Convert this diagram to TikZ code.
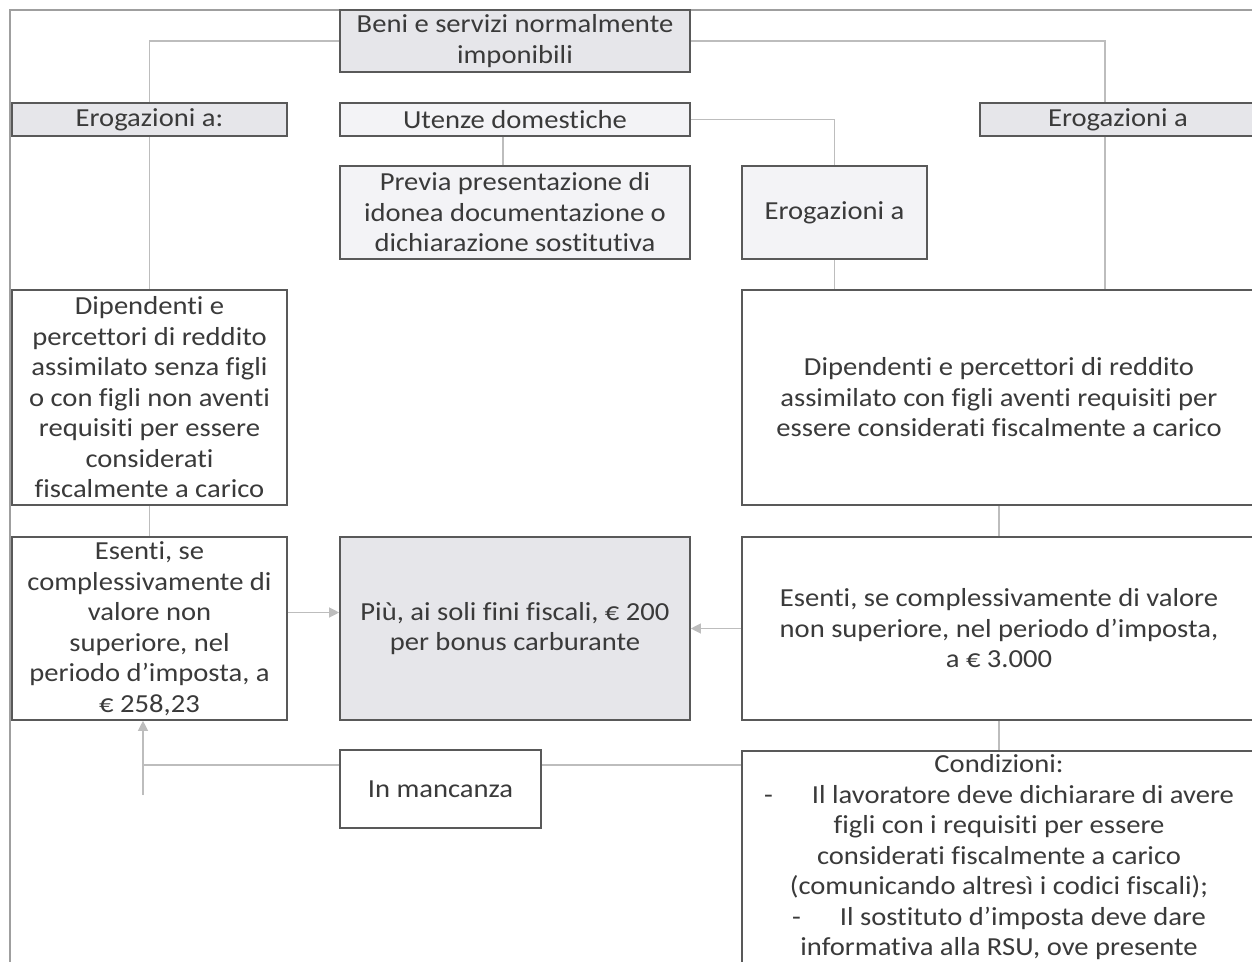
\documentclass[tikz,border=0pt]{standalone}
\usepackage{fontspec}
\setmainfont{Carlito}[FakeStretch=1.1,Ligatures={NoCommon}]
\usetikzlibrary{arrows.meta}
\definecolor{testo}{HTML}{3A3A3A}
\definecolor{bordo}{HTML}{595959}
\definecolor{linea}{HTML}{BDBDBD}
\definecolor{grigio}{HTML}{E6E6EA}
\definecolor{chiaro}{HTML}{F3F3F6}
\begin{document}
\begin{tikzpicture}[x=0.5pt,y=-0.5pt,
    box/.style={draw=bordo,line width=0.8pt,text=testo,align=center,inner sep=2pt,
      font=\fontsize{13}{15.25}\selectfont},
    conn/.style={draw=linea,line width=0.6pt},
    arr/.style={conn,-{Triangle[length=5pt,width=5pt]},fill=linea!80!black},
    cornice/.style={draw=gray!75,line width=1pt}]
    \clip (0,0) rectangle (1252,962);

    % cornice esterna
    \draw[cornice] (10,962) -- (10,10) -- (1252,10);

    % riga in alto
    \node[box,fill=grigio,minimum width=175pt,minimum height=31pt] (beni) at (515,41) {Beni e servizi normalmente\\imponibili};
    \node[box,fill=grigio,minimum width=137.5pt,minimum height=16.5pt] (erogL) at (149.5,119.5) {Erogazioni a:};
    \node[box,fill=chiaro,minimum width=175pt,minimum height=16.5pt] (utenze) at (515,119.5) {Utenze domestiche};
    \node[box,fill=grigio,minimum width=138pt,minimum height=16.5pt] (erogR) at (1118,119.5) {Erogazioni a};

    % blocco centrale
    \node[box,fill=chiaro,minimum width=175pt,minimum height=46.5pt] (previa) at (515,212.5) {Previa presentazione di\\idonea documentazione o\\dichiarazione sostitutiva};
    \node[box,fill=chiaro,minimum width=92.5pt,minimum height=46.5pt] (erogM) at (834.5,212.5) {Erogazioni a};

    % dipendenti
    \node[box,fill=white,minimum width=137.5pt,minimum height=107.5pt] (dipL) at (149.5,397.5) {Dipendenti e\\percettori di reddito\\assimilato senza figli\\o con figli non aventi\\requisiti per essere\\considerati\\fiscalmente a carico};
    \node[box,fill=white,minimum width=257pt,minimum height=107.5pt] (dipR) at (999,397.5) {Dipendenti e percettori di reddito\\assimilato con figli aventi requisiti per\\essere considerati fiscalmente a carico};

    % esenzioni
    \node[box,fill=white,minimum width=137.5pt,minimum height=91.5pt] (esL) at (149.5,628.5) {Esenti, se\\complessivamente di\\valore non\\superiore, nel\\periodo d’imposta, a\\€ 258,23};
    \node[box,fill=grigio,minimum width=175pt,minimum height=91.5pt] (piu) at (515,628.5) {Più, ai soli fini fiscali, € 200\\per bonus carburante};
    \node[box,fill=white,minimum width=257pt,minimum height=91.5pt] (esR) at (999,628.5) {Esenti, se complessivamente di valore\\non superiore, nel periodo d’imposta,\\a € 3.000};

    % in basso
    \node[box,fill=white,minimum width=100.5pt,minimum height=39pt] (manc) at (440.5,789) {In mancanza};
    \node[box,fill=white,minimum width=257pt,anchor=north] (cond) at (999,750) {Condizioni:\\
      -\hspace{1.5em}Il lavoratore deve dichiarare di avere\\
      figli con i requisiti per essere\\
      considerati fiscalmente a carico\\
      (comunicando altresì i codici fiscali);\\
      -\hspace{1.5em}Il sostituto d’imposta deve dare\\
      informativa alla RSU, ove presente};

    % collegamenti
    \draw[conn] (beni.west) -| (erogL.north);
    \draw[conn] (beni.east) -| ([xshift=-6.5pt]erogR.north);
    \draw[conn] (utenze.east) -| (erogM.north);
    \draw[conn] ([xshift=-6pt]utenze.south) -- ([xshift=-6pt]previa.north);
    \draw[conn] (erogL.south) -- (dipL.north);
    \draw[conn] (dipL.south) -- (esL.north);
    \draw[conn] ([xshift=-6.5pt]erogR.south) -- ([xshift=-6.5pt]erogR.south |- dipR.north);
    \draw[conn] (erogM.south) -- (erogM.south |- dipR.north);
    \draw[conn] (dipR.south) -- (esR.north);
    \draw[conn] (esR.south) -- (cond.north);
    \draw[arr] ([yshift=8pt]esL.east) -- ([yshift=8pt]piu.west);
    \draw[arr] (esR.west) -- (piu.east);
    \draw[conn] ([yshift=-7.5pt]cond.north west) -- ([yshift=-7.5pt]cond.north west -| manc.east);
    \coordinate (ritorno) at (143,795);
    \draw[conn] ([yshift=12pt]manc.west) -- ([yshift=12pt]manc.west -| ritorno);
    \draw[arr] (ritorno) -- (ritorno |- esL.south);
\end{tikzpicture}
\end{document}
